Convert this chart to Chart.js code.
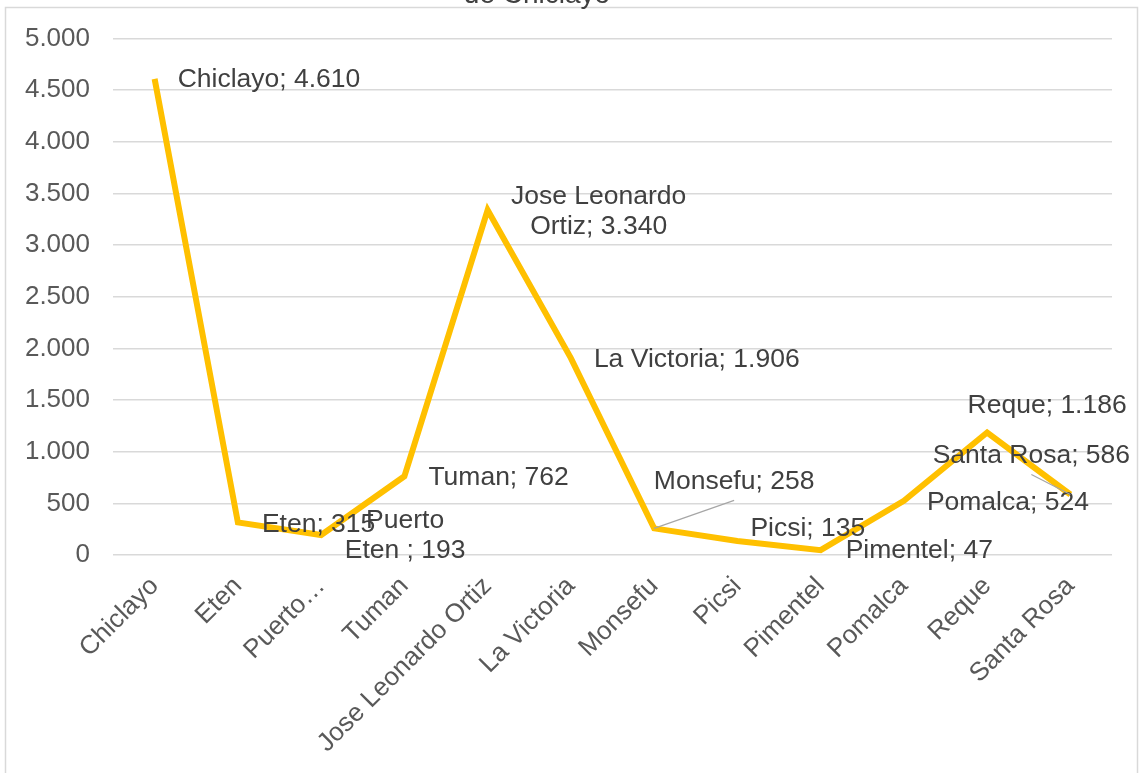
<!DOCTYPE html>
<html>
<head>
<meta charset="utf-8">
<script src="https://cdn.jsdelivr.net/npm/chart.js@4"></script>
<style>
  body { margin: 0; background: #fff; }
  #wrap { width: 1142px; height: 773px; position: relative; overflow: hidden; }
</style>
</head>
<body>
<div id="wrap"><canvas id="chart" width="1142" height="773"></canvas></div>
<script>
// distritos y cantidades
const categories = ['Chiclayo', 'Eten', 'Puerto Eten ', 'Tuman', 'Jose Leonardo Ortiz', 'La Victoria',
                    'Monsefu', 'Picsi', 'Pimentel', 'Pomalca', 'Reque', 'Santa Rosa'];
const values = [4610, 315, 193, 762, 3340, 1906, 258, 135, 47, 524, 1186, 586];
const axisLabels = ['Chiclayo', 'Eten', 'Puerto…', 'Tuman', 'Jose Leonardo Ortiz', 'La Victoria',
                    'Monsefu', 'Picsi', 'Pimentel', 'Pomalca', 'Reque', 'Santa Rosa'];
const yMin = 0, yMax = 5000, yStep = 500;

// posición de cada etiqueta respecto a su punto: [dx, dy, align, corte de línea, guía]
const labelLayout = [
  [23, 1, 'left', 0, false],
  [24, 2, 'left', 0, false],
  [84, 1, 'center', 1, false],
  [24, 1, 'left', 0, false],
  [111, 2, 'center', 2, false],
  [23, 2, 'left', 0, false],
  [80, -47, 'center', 0, true],
  [13, -12, 'left', 0, false],
  [25, 1, 'left', 0, false],
  [23, 2, 'left', 0, false],
  [60, -27, 'center', 0, false],
  [-39, -39, 'center', 0, true]
];

const FONT = '"Liberation Sans", Arial, sans-serif';

// separador de miles con punto
function fmt(n) {
  return String(n).replace(/\B(?=(\d{3})+(?!\d))/g, '.');
}

const frameAndTitle = {
  id: 'frameAndTitle',
  beforeDraw(chart) {
    const c = chart.ctx;
    c.save();
    c.fillStyle = '#fff';
    c.fillRect(0, 0, chart.width, chart.height);
    c.strokeStyle = '#d9d9d9';
    c.lineWidth = 1.5;
    c.strokeRect(5.5, 7.5, 1132, 800);
    c.fillStyle = '#404040';
    c.font = '28px ' + FONT;
    c.textAlign = 'center';
    c.textBaseline = 'alphabetic';
    c.fillText('de Chiclayo', 537, 3);
    c.restore();
  }
};

const pointLabels = {
  id: 'pointLabels',
  afterDatasetsDraw(chart) {
    const c = chart.ctx;
    const pts = chart.getDatasetMeta(0).data;
    c.save();
    c.font = '26.5px ' + FONT;
    c.textBaseline = 'middle';
    pts.forEach((p, i) => {
      const [dx, dy, align, brk, leader] = labelLayout[i];
      const text = categories[i] + '; ' + fmt(values[i]);
      let lines = [text];
      if (brk) {
        const words = text.split(' ');
        lines = [words.slice(0, brk).join(' '), words.slice(brk).join(' ')];
      }
      const lh = 30;
      const cx = p.x + dx, cy = p.y + dy;
      if (leader) {
        c.strokeStyle = '#a6a6a6';
        c.lineWidth = 1.2;
        c.beginPath();
        c.moveTo(p.x, p.y);
        c.lineTo(cx, cy + 19);
        c.stroke();
      }
      c.fillStyle = '#404040';
      c.textAlign = align;
      lines.forEach((ln, k) => {
        c.fillText(ln, cx, cy + (k - (lines.length - 1) / 2) * lh);
      });
    });
    c.restore();
  }
};

new Chart(document.getElementById('chart'), {
  type: 'line',
  data: {
    labels: axisLabels,
    datasets: [{
      data: values,
      borderColor: '#FFC000',
      borderWidth: 6,
      tension: 0,
      pointRadius: 0,
      fill: false
    }]
  },
  options: {
    responsive: false,
    animation: false,
    layout: { padding: { top: 36, right: 30, left: 0, bottom: 0 } },
    plugins: { legend: { display: false }, tooltip: { enabled: false }, title: { display: false } },
    scales: {
      x: {
        offset: true,
        grid: { display: false },
        border: { display: false },
        ticks: {
          color: '#595959',
          font: { family: FONT, size: 26 },
          minRotation: 45,
          maxRotation: 45,
          autoSkip: false,
          padding: 8
        },
        afterFit(scale) { scale.height = 218; }
      },
      y: {
        min: yMin,
        max: yMax,
        grid: { color: '#d9d9d9', lineWidth: 1.5, drawTicks: false },
        border: { display: false },
        ticks: {
          stepSize: yStep,
          color: '#595959',
          font: { family: FONT, size: 26 },
          padding: 23,
          callback: v => fmt(v)
        },
        afterFit(scale) { scale.width = 113; }
      }
    }
  },
  plugins: [frameAndTitle, pointLabels]
});
</script>
</body>
</html>
